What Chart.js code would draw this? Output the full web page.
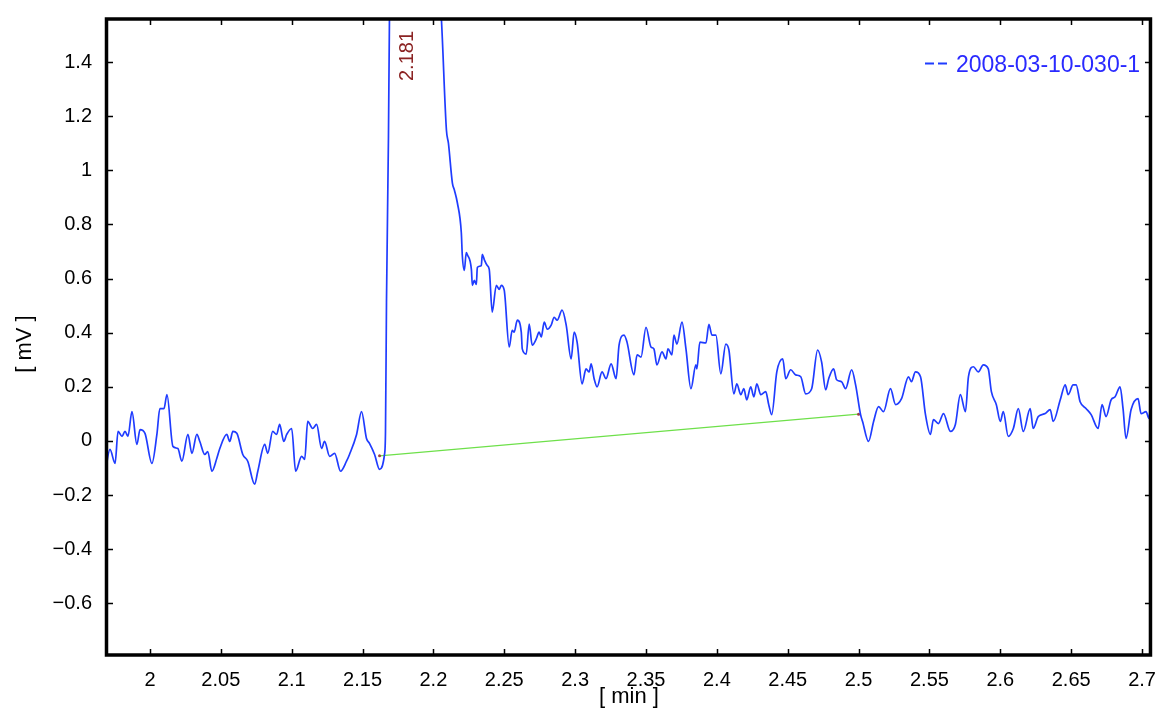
<!DOCTYPE html>
<html>
<head>
<meta charset="utf-8">
<script src="https://cdn.jsdelivr.net/npm/chart.js@4.4.1/dist/chart.umd.min.js"></script>
<style>
  html, body { margin: 0; padding: 0; background: #fff; }
  #wrap { width: 1161px; height: 711px; }
</style>
</head>
<body>
<div id="wrap"><canvas id="c" width="1161" height="711"></canvas></div>
<script>
// Chromatogram segment, values
const seriesLabel = '2008-03-10-030-1';
const peakTime = 2.181;
const peakLabel = '2.181';

const timeMin = [
  1.9683, 1.9718, 1.9754, 1.9775, 1.9803, 1.9824, 1.9845, 1.9873, 1.9908, 1.9930,
  1.9965, 2.0014, 2.0049, 2.0070, 2.0099, 2.0120, 2.0162, 2.0197, 2.0225, 2.0268,
  2.0296, 2.0331, 2.0352, 2.0387, 2.0408, 2.0437, 2.0472, 2.0493, 2.0542, 2.0563,
  2.0585, 2.0613, 2.0655, 2.0690, 2.0739, 2.0761, 2.0810, 2.0831, 2.0866, 2.0894,
  2.0915, 2.0944, 2.0965, 2.1000, 2.1028, 2.1070, 2.1092, 2.1113, 2.1148, 2.1176,
  2.1211, 2.1232, 2.1268, 2.1303, 2.1345, 2.1387, 2.1408, 2.1458, 2.1493, 2.1528,
  2.1549, 2.1585, 2.1620, 2.1655, 2.1662, 2.1669, 2.1683, 2.1690, 2.1718, 2.1761,
  2.1810, 2.1866, 2.1937, 2.2014, 2.2056, 2.2092, 2.2106, 2.2134, 2.2148, 2.2169,
  2.2197, 2.2204, 2.2218, 2.2232, 2.2239, 2.2268, 2.2275, 2.2289, 2.2303, 2.2310,
  2.2338, 2.2345, 2.2359, 2.2380, 2.2394, 2.2415, 2.2444, 2.2465, 2.2479, 2.2500,
  2.2535, 2.2556, 2.2570, 2.2592, 2.2620, 2.2627, 2.2655, 2.2676, 2.2697, 2.2725,
  2.2746, 2.2761, 2.2782, 2.2803, 2.2831, 2.2852, 2.2873, 2.2908, 2.2937, 2.2972,
  2.2993, 2.3014, 2.3049, 2.3077, 2.3099, 2.3113, 2.3134, 2.3155, 2.3190, 2.3218,
  2.3254, 2.3289, 2.3310, 2.3345, 2.3366, 2.3415, 2.3437, 2.3465, 2.3500, 2.3535,
  2.3556, 2.3577, 2.3613, 2.3641, 2.3655, 2.3683, 2.3697, 2.3718, 2.3754, 2.3782,
  2.3817, 2.3852, 2.3859, 2.3880, 2.3923, 2.3944, 2.3965, 2.3993, 2.4028, 2.4063,
  2.4085, 2.4120, 2.4141, 2.4169, 2.4190, 2.4211, 2.4239, 2.4261, 2.4282, 2.4310,
  2.4345, 2.4366, 2.4387, 2.4423, 2.4465, 2.4486, 2.4521, 2.4556, 2.4592, 2.4627,
  2.4669, 2.4711, 2.4739, 2.4768, 2.4789, 2.4824, 2.4845, 2.4880, 2.4908, 2.4951,
  2.4979, 2.5014, 2.5028, 2.5070, 2.5106, 2.5141, 2.5176, 2.5225, 2.5261, 2.5303,
  2.5352, 2.5373, 2.5401, 2.5437, 2.5472, 2.5507, 2.5528, 2.5563, 2.5599, 2.5648,
  2.5683, 2.5718, 2.5754, 2.5775, 2.5810, 2.5845, 2.5880, 2.5915, 2.5937, 2.5972,
  2.6000, 2.6021, 2.6056, 2.6092, 2.6127, 2.6162, 2.6211, 2.6232, 2.6268, 2.6317,
  2.6352, 2.6373, 2.6423, 2.6458, 2.6479, 2.6514, 2.6535, 2.6563, 2.6606, 2.6641,
  2.6690, 2.6718, 2.6746, 2.6782, 2.6810, 2.6845, 2.6866, 2.6887, 2.6923, 2.6972,
  2.6993, 2.7028, 2.7049, 2.7063, 2.7092
];
const signalMv = [
  -0.123, -0.031, -0.083, 0.035, 0.017, 0.035, 0.017, 0.108, -0.013, 0.042,
  0.028, -0.083, 0.024, 0.119, 0.119, 0.171, -0.020, -0.028, -0.075, 0.024,
  -0.046, 0.024, -0.002, -0.050, -0.039, -0.112, -0.064, -0.028, 0.024, -0.002,
  0.035, 0.028, -0.050, -0.075, -0.160, -0.112, -0.013, -0.046, 0.035, 0.024,
  0.061, -0.002, 0.024, 0.046, -0.112, -0.057, -0.068, 0.072, 0.046, 0.061,
  -0.028, -0.002, -0.057, -0.046, -0.112, -0.075, -0.050, 0.024, 0.108, 0.009,
  -0.009, -0.050, -0.105, -0.050, 0.035, 0.512, 1.126, 1.563, 2.200, 2.700,
  2.900, 2.700, 2.300, 1.850, 1.563, 1.148, 1.100, 0.953, 0.927, 0.880,
  0.769, 0.685, 0.630, 0.696, 0.689, 0.634, 0.575, 0.593, 0.578, 0.641,
  0.648, 0.689, 0.670, 0.648, 0.634, 0.476, 0.575, 0.560, 0.575, 0.556,
  0.347, 0.409, 0.402, 0.446, 0.402, 0.340, 0.321, 0.432, 0.354, 0.376,
  0.402, 0.384, 0.439, 0.413, 0.428, 0.457, 0.446, 0.483, 0.428, 0.303,
  0.402, 0.365, 0.211, 0.266, 0.255, 0.285, 0.230, 0.200, 0.255, 0.230,
  0.285, 0.230, 0.354, 0.391, 0.365, 0.244, 0.318, 0.310, 0.420, 0.347,
  0.340, 0.281, 0.329, 0.303, 0.340, 0.318, 0.391, 0.358, 0.439, 0.340,
  0.193, 0.281, 0.266, 0.365, 0.362, 0.431, 0.391, 0.391, 0.248, 0.358,
  0.336, 0.174, 0.211, 0.171, 0.193, 0.152, 0.200, 0.163, 0.211, 0.171,
  0.182, 0.134, 0.097, 0.255, 0.303, 0.230, 0.263, 0.244, 0.237, 0.174,
  0.193, 0.336, 0.292, 0.189, 0.230, 0.266, 0.226, 0.219, 0.193, 0.263,
  0.207, 0.097, 0.072, -0.002, 0.072, 0.127, 0.108, 0.193, 0.134, 0.156,
  0.237, 0.219, 0.255, 0.237, 0.097, 0.024, 0.079, 0.064, 0.101, 0.035,
  0.061, 0.171, 0.108, 0.237, 0.274, 0.255, 0.281, 0.266, 0.182, 0.134,
  0.072, 0.108, 0.017, 0.046, 0.119, 0.035, 0.119, 0.046, 0.090, 0.101,
  0.116, 0.072, 0.152, 0.207, 0.171, 0.207, 0.207, 0.145, 0.119, 0.097,
  0.046, 0.134, 0.090, 0.152, 0.163, 0.200, 0.119, 0.009, 0.116, 0.156,
  0.101, 0.108, 0.083, 0.145, 0.145
];

// integration baseline under the peak
const baselineTime = [2.162, 2.500];
const baselineMv = [-0.055, 0.099];

const xTicks = [2, 2.05, 2.1, 2.15, 2.2, 2.25, 2.3, 2.35, 2.4, 2.45, 2.5, 2.55, 2.6, 2.65, 2.7];
const xTickLabels = ['2', '2.05', '2.1', '2.15', '2.2', '2.25', '2.3', '2.35', '2.4', '2.45', '2.5', '2.55', '2.6', '2.65', '2.7'];
const yTicks = [-0.6, -0.4, -0.2, 0, 0.2, 0.4, 0.6, 0.8, 1, 1.2, 1.4];
const yTickLabels = ['\u22120.6', '\u22120.4', '\u22120.2', '0', '0.2', '0.4', '0.6', '0.8', '1', '1.2', '1.4'];

const FONT = "'Liberation Sans', Arial, sans-serif";
const LINE_BLUE = '#1f3cff';

// cadre, graduations intérieures, légende, annotation du pic, titres d'axes
const framePlugin = {
  id: 'frame',
  afterDatasetsDraw(chart) {
    const { ctx, chartArea: a, scales: { x, y } } = chart;
    ctx.save();
    ctx.strokeStyle = '#000';
    ctx.lineWidth = 1.5;
    ctx.beginPath();
    xTicks.forEach(v => {
      const px = Math.round(x.getPixelForValue(v)) + 0.5;
      ctx.moveTo(px, a.bottom); ctx.lineTo(px, a.bottom - 6);
      ctx.moveTo(px, a.top); ctx.lineTo(px, a.top + 6);
    });
    yTicks.forEach(v => {
      const py = Math.round(y.getPixelForValue(v)) + 0.5;
      ctx.moveTo(a.left, py); ctx.lineTo(a.left + 6, py);
      ctx.moveTo(a.right, py); ctx.lineTo(a.right - 6, py);
    });
    ctx.stroke();

    ctx.lineWidth = 3.5;
    ctx.strokeRect(a.left - 0.5, a.top, a.right - a.left, a.bottom - a.top);

    // légende en haut à droite
    ctx.strokeStyle = LINE_BLUE;
    ctx.lineWidth = 2;
    ctx.setLineDash([9, 4]);
    ctx.beginPath();
    ctx.moveTo(925, 63.5); ctx.lineTo(947, 63.5);
    ctx.stroke();
    ctx.setLineDash([]);
    ctx.fillStyle = '#2a2aff';
    ctx.font = `23px ${FONT}`;
    ctx.textAlign = 'left';
    ctx.textBaseline = 'alphabetic';
    ctx.fillText(seriesLabel, 956, 72);

    // temps de rétention du pic, écrit verticalement
    ctx.save();
    ctx.translate(x.getPixelForValue(peakTime) + 1, 56);
    ctx.rotate(-Math.PI / 2);
    ctx.fillStyle = '#8b2323';
    ctx.font = `20px ${FONT}`;
    ctx.textAlign = 'center';
    ctx.textBaseline = 'middle';
    ctx.fillText(peakLabel, 0, 0);
    ctx.restore();

    // titres d'axes
    ctx.fillStyle = '#000';
    ctx.font = `22px ${FONT}`;
    ctx.textAlign = 'center';
    ctx.textBaseline = 'middle';
    ctx.fillText('[ min ]', (a.left + a.right) / 2, 697);
    ctx.save();
    ctx.translate(25, 344);
    ctx.rotate(-Math.PI / 2);
    ctx.fillText('[ mV ]', 0, 0);
    ctx.restore();
    ctx.restore();
  }
};

new Chart(document.getElementById('c').getContext('2d'), {
  type: 'line',
  data: {
    datasets: [
      {
        label: seriesLabel,
        data: timeMin.map((t, i) => ({ x: t, y: signalMv[i] })),
        borderColor: LINE_BLUE,
        borderWidth: 1.7,
        pointRadius: 0,
        cubicInterpolationMode: 'monotone',
        clip: 0,
      },
      {
        label: 'baseline',
        data: baselineTime.map((t, i) => ({ x: t, y: baselineMv[i] })),
        borderColor: '#6ee04a',
        borderWidth: 1.2,
        pointRadius: 1.5,
        pointBackgroundColor: '#a04040',
        pointBorderWidth: 0,
        clip: 0,
      },
    ],
  },
  options: {
    responsive: false,
    animation: false,
    layout: { padding: { top: 15, right: 7, left: 0, bottom: 0 } },
    plugins: { legend: { display: false }, tooltip: { enabled: false } },
    scales: {
      x: {
        type: 'linear', min: 1.9697, max: 2.7063,
        grid: { display: false }, border: { display: false },
        afterBuildTicks: s => { s.ticks = xTicks.map(v => ({ value: v })); },
        afterFit: s => { s.height = 56; },
        ticks: {
          autoSkip: false, maxRotation: 0, padding: 5, color: '#000',
          font: { family: FONT, size: 20 },
          callback: (v, i) => xTickLabels[i],
        },
      },
      y: {
        type: 'linear', min: -0.791, max: 1.559,
        grid: { display: false }, border: { display: false },
        afterBuildTicks: s => { s.ticks = yTicks.map(v => ({ value: v })); },
        afterFit: s => { s.width = 107; },
        ticks: {
          autoSkip: false, padding: 7, color: '#000',
          font: { family: FONT, size: 20 },
          callback: (v, i) => yTickLabels[i],
        },
      },
    },
  },
  plugins: [framePlugin],
});
</script>
</body>
</html>
